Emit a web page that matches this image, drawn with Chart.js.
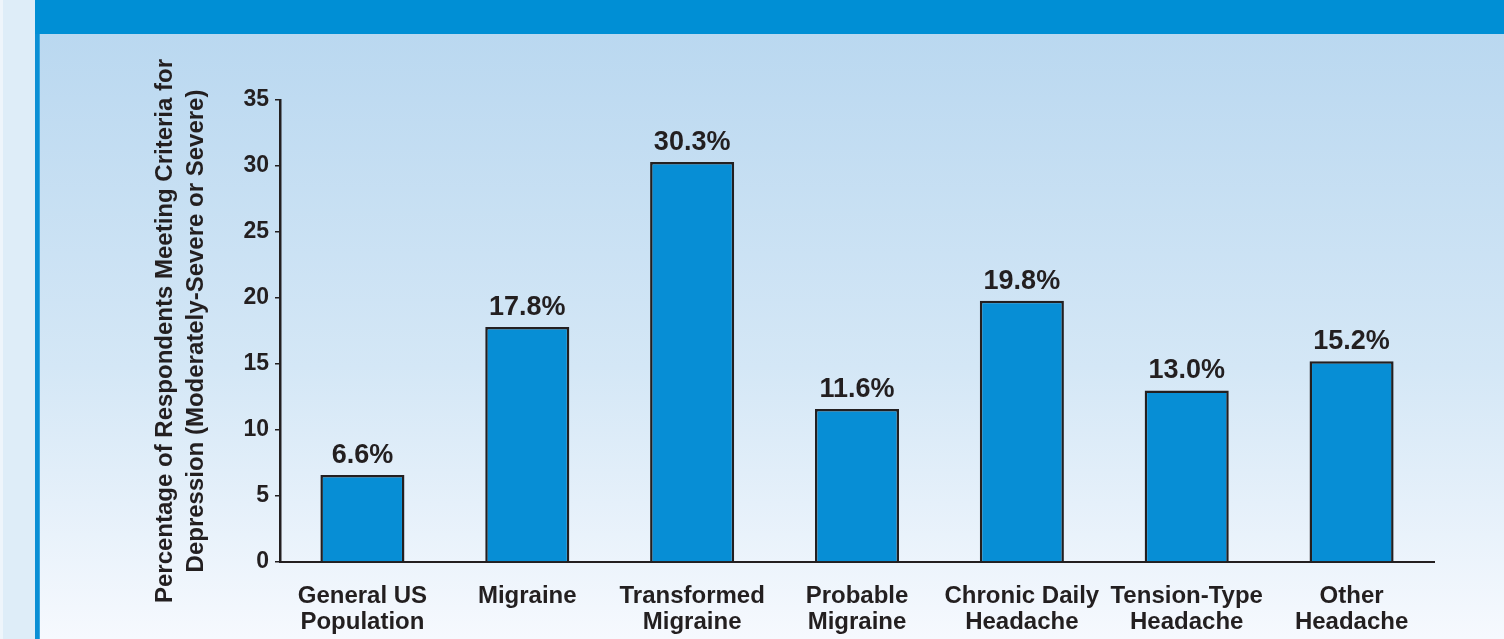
<!DOCTYPE html>
<html>
<head>
<meta charset="utf-8">
<script src="https://cdn.jsdelivr.net/npm/chart.js@4"></script>
<style>
  body { margin: 0; }
  #wrap { position: relative; width: 1504px; height: 639px; background: #deedf8; overflow: hidden; }
  #edge { position: absolute; left: 0; top: 0; width: 3px; height: 639px; background: #eef5fb; }
  #band { position: absolute; left: 35px; top: 0; width: 1469px; height: 34px; background: #008fd5; }
  #vline { position: absolute; left: 35px; top: 34px; width: 4px; height: 605px; background: #0a8fd5; }
  #vline2 { position: absolute; left: 39px; top: 34px; width: 1px; height: 605px; background: #3aa8e0; }
  #panel { position: absolute; left: 40px; top: 34px; width: 1464px; height: 605px;
           background: linear-gradient(#bad8f0, #d4e7f6 55%, #f6f9fe); }
  #myChart { position: absolute; left: 0; top: 0; }
</style>
</head>
<body>
<div id="wrap">
  <div id="edge"></div>
  <div id="band"></div>
  <div id="vline"></div>
  <div id="vline2"></div>
  <div id="panel"></div>
  <canvas id="myChart" width="1504" height="639"></canvas>
</div>
<script>
const categories = [
  ['General US', 'Population'],
  ['Migraine'],
  ['Transformed', 'Migraine'],
  ['Probable', 'Migraine'],
  ['Chronic Daily', 'Headache'],
  ['Tension-Type', 'Headache'],
  ['Other', 'Headache']
];
const depressionPct = [6.6, 17.8, 30.3, 11.6, 19.8, 13.0, 15.2];
const yTicks = [0, 5, 10, 15, 20, 25, 30, 35];
const yTitle = ['Percentage of Respondents Meeting Criteria for', 'Depression (Moderately-Severe or Severe)'];

const ink = '#231f20';
Chart.defaults.font.family = "'Liberation Sans', Arial, Helvetica, sans-serif";
Chart.defaults.color = ink;

// value labels above the bars
const barLabels = {
  id: 'barLabels',
  afterDatasetsDraw(chart) {
    const ctx = chart.ctx;
    const meta = chart.getDatasetMeta(0);
    ctx.save();
    ctx.font = "bold 27px 'Liberation Sans', Arial, sans-serif";
    ctx.fillStyle = ink;
    ctx.textAlign = 'center';
    ctx.textBaseline = 'alphabetic';
    meta.data.forEach((bar, i) => {
      ctx.fillText(depressionPct[i].toFixed(1) + '%', bar.x, bar.y - 12);
    });
    ctx.restore();
  }
};

const ctx = document.getElementById('myChart').getContext('2d');
new Chart(ctx, {
  type: 'bar',
  data: {
    labels: categories,
    datasets: [{
      data: depressionPct,
      backgroundColor: '#078ed5',
      borderColor: ink,
      borderWidth: 2.5,
      borderSkipped: 'bottom',
      barPercentage: 0.51,
      categoryPercentage: 1
    }]
  },
  options: {
    responsive: false,
    animation: false,
    layout: { padding: { left: 150, top: 100, right: 70, bottom: 0 } },
    plugins: {
      legend: { display: false },
      tooltip: { enabled: false }
    },
    scales: {
      x: {
        afterFit(scale) { scale.height = 77; },
        grid: { display: false, drawTicks: false },
        border: { display: true, color: ink, width: 2 },
        ticks: {
          padding: 22,
          maxRotation: 0,
          autoSkip: false,
          color: ink,
          font: { size: 24, weight: 'bold', lineHeight: 1.06 }
        }
      },
      y: {
        min: 0,
        max: 35,
        afterFit(scale) { scale.width = 130; },
        afterBuildTicks(scale) { scale.ticks = yTicks.map(v => ({ value: v })); },
        grid: { drawOnChartArea: false, drawTicks: true, tickLength: 5, color: ink, lineWidth: 1.5 },
        border: { display: true, color: ink, width: 2.5 },
        ticks: {
          padding: 6,
          color: ink,
          font: { size: 23, weight: 'bold' }
        },
        title: {
          display: true,
          text: yTitle,
          color: ink,
          padding: 0,
          font: { size: 24, weight: 'bold', lineHeight: 1.3 }
        }
      }
    }
  },
  plugins: [barLabels]
});
</script>
</body>
</html>
